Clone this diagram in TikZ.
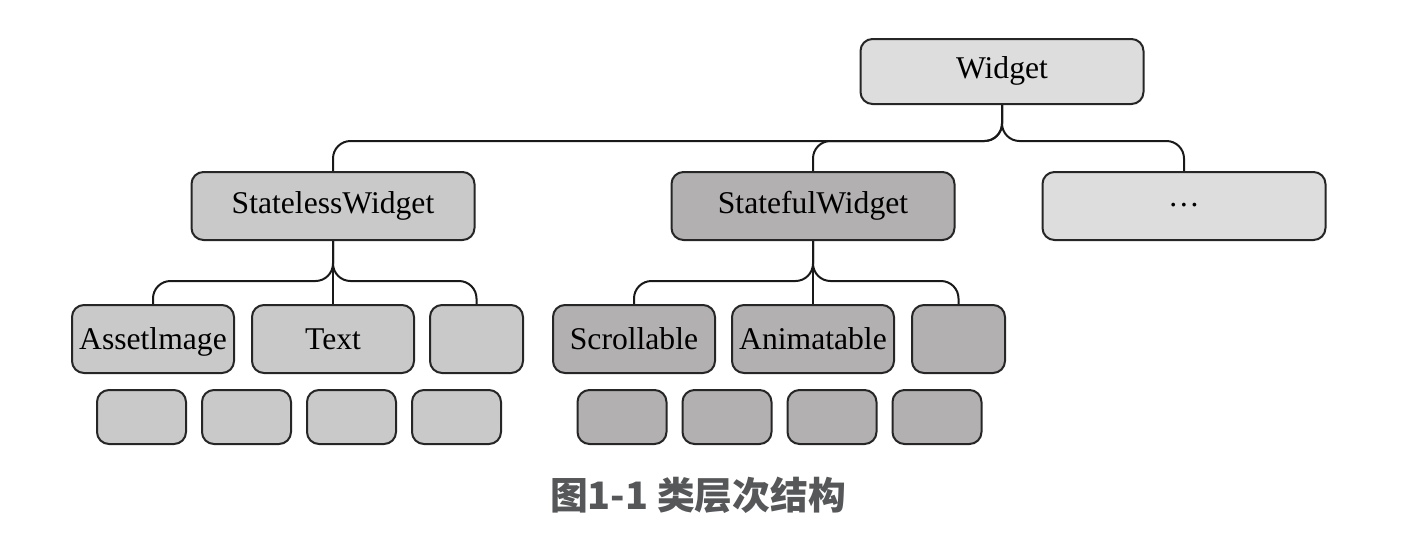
\documentclass[tikz,border=0pt]{standalone}
\usepackage{fontspec}
\setmainfont{Liberation Serif}
\newfontfamily\cjk{Noto Sans CJK SC}
\usetikzlibrary{positioning}
\definecolor{chiaro}{RGB}{221,221,221}
\definecolor{medio}{RGB}{201,201,201}
\definecolor{scuro}{RGB}{178,176,176}
\definecolor{didascalia}{RGB}{85,87,89}
\tikzset{
node distance=2.1cm,
scatola/.style={draw=black!85,line width=0.04cm,rounded corners=0.24cm,inner sep=0pt,minimum height=1.36cm,text height=16.4pt,text depth=4pt},
grande/.style={scatola,minimum width=5.66cm,text height=12pt},
media/.style={scatola,minimum width=3.24cm},
piccola/.style={scatola,minimum width=1.86cm},
foglia/.style={scatola,minimum width=1.78cm,minimum height=1.08cm},
ramo/.style={draw=black!90,line width=0.04cm,rounded corners=0.35cm}}

\begin{document}
\begin{tikzpicture}[font=\fontsize{18}{20}\selectfont]

\useasboundingbox (0,0) rectangle (28.42,-10.84);

\node[grande,fill=chiaro,minimum height=1.3cm] (w) at (20.04,-1.43) {Widget};
\node[grande,fill=medio] (sl) at (6.66,-4.12) {StatelessWidget};
\node[grande,fill=scuro] (sf) at (16.26,-4.12) {StatefulWidget};
\node[grande,fill=chiaro] (alt) at (23.68,-4.12) {\raisebox{0.2em}{\dots}};

\node[media,fill=medio] (ai) at (3.06,-6.78) {Assetlmage};
\node[media,fill=medio] (tx) at (6.66,-6.78) {Text};
\node[piccola,fill=medio] (v1) at (9.53,-6.78) {};
\node[media,fill=scuro] (sc) at (12.68,-6.78) {Scrollable};
\node[media,fill=scuro] (an) at (16.26,-6.78) {Animatable};
\node[piccola,fill=scuro] (v2) at (19.17,-6.78) {};

\node[foglia,fill=medio] (f1) at (2.83,-8.34) {};
\node (f2) [foglia,fill=medio,right of=f1] {};
\node (f3) [foglia,fill=medio,right of=f2] {};
\node (f4) [foglia,fill=medio,right of=f3] {};
\node[foglia,fill=scuro] (f5) at (12.44,-8.34) {};
\node (f6) [foglia,fill=scuro,right of=f5] {};
\node (f7) [foglia,fill=scuro,right of=f6] {};
\node (f8) [foglia,fill=scuro,right of=f7] {};

\draw[ramo] (w.south) -- ++(0,-0.72) -| (sl.north);
\draw[ramo] (w.south) -- ++(0,-0.72) -| (sf.north);
\draw[ramo] (w.south) -- ++(0,-0.72) -| (alt.north);

\draw[ramo] (sl.south) -- ++(0,-0.8) -| (ai.north);
\draw[ramo] (sl.south) -- (tx.north);
\draw[ramo] (sl.south) -- ++(0,-0.8) -| (v1.north);

\draw[ramo] (sf.south) -- ++(0,-0.8) -| (sc.north);
\draw[ramo] (sf.south) -- (an.north);
\draw[ramo] (sf.south) -- ++(0,-0.8) -| (v2.north);

\node[font=\cjk\bfseries\fontsize{21.5}{24}\selectfont,text=didascalia] (cap) at (13.96,-9.9) {图1-1 类层次结构};

\end{tikzpicture}
\end{document}
